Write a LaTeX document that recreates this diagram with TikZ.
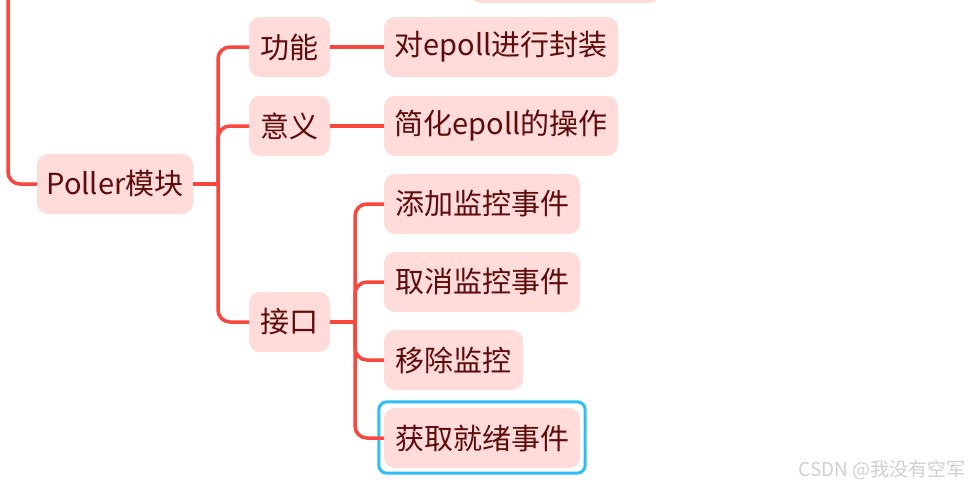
\documentclass[tikz,border=0pt]{standalone}
\usepackage{fontspec}
\setmainfont{Noto Sans CJK SC}
\newfontfamily\wmfont{Noto Sans CJK SC}
\definecolor{lineRed}{HTML}{F9473D}
\definecolor{boxFill}{HTML}{FFDBD9}
\definecolor{txt}{HTML}{5E0B0B}
\definecolor{selBlue}{HTML}{2EBDF7}
\definecolor{wm}{HTML}{D0D0D0}
\begin{document}
\begin{tikzpicture}[x=1pt,y=-1pt,
  topic/.style={fill=boxFill, rounded corners=11pt, text=txt, inner sep=0pt,
     minimum height=60pt, font=\fontsize{29}{32}\selectfont, anchor=center},
  conn/.style={draw=lineRed, line width=3.5pt, rounded corners=12pt},
]
\clip (0,0) rectangle (972,490);
\useasboundingbox (0,0) rectangle (972,490);
\fill[white] (0,0) rectangle (972,490);

% nodes
\node[topic, minimum width=190pt] (top) at (565,-27) {};
\node[topic, minimum width=156pt] (poller) at (115,184) {Poller模块};
\node[topic, minimum width=81pt] (gn) at (289.5,47) {功能};
\node[topic, minimum width=81pt] (yy) at (289.5,126) {意义};
\node[topic, minimum width=81pt] (jk) at (289.5,322) {接口};
\node[topic, minimum width=234pt] (fz) at (501,47) {对epoll进行封装};
\node[topic, minimum width=234pt] (jh) at (501,126) {简化epoll的操作};
\node[topic, minimum width=196pt] (tj) at (482,204) {添加监控事件};
\node[topic, minimum width=196pt] (qx) at (482,282) {取消监控事件};
\node[topic, minimum width=139pt] (yc) at (453.5,360) {移除监控};
\node[topic, minimum width=196pt] (hq) at (482,438) {获取就绪事件};
\draw[selBlue, line width=3pt, rounded corners=8pt] ([xshift=-5pt,yshift=6pt]hq.north west) rectangle ([xshift=5pt,yshift=-5pt]hq.south east);

% connectors
\coordinate (topL) at (8,-5);
\coordinate (j1) at (218,184);
\coordinate (j2) at (355,322);
\draw[conn] (topL) |- (poller.west);
\draw[conn] (poller.east) -- (j1);
\draw[conn] (j1) |- (gn.west);
\draw[conn] (j1) |- (yy.west);
\draw[conn] (j1) |- (jk.west);
\draw[conn] (gn.east) -- (fz.west);
\draw[conn] (yy.east) -- (jh.west);
\draw[conn] (jk.east) -- (j2);
\draw[conn] (j2) |- (tj.west);
\draw[conn] (j2) |- (qx.west);
\draw[conn] (j2) |- (yc.west);
\draw[conn] (j2) |- (hq.west);

\node[text=wm, font=\wmfont\fontsize{19}{22}\selectfont, anchor=east] (wmk) at (969,470) {CSDN @我没有空军};
\end{tikzpicture}
\end{document}
